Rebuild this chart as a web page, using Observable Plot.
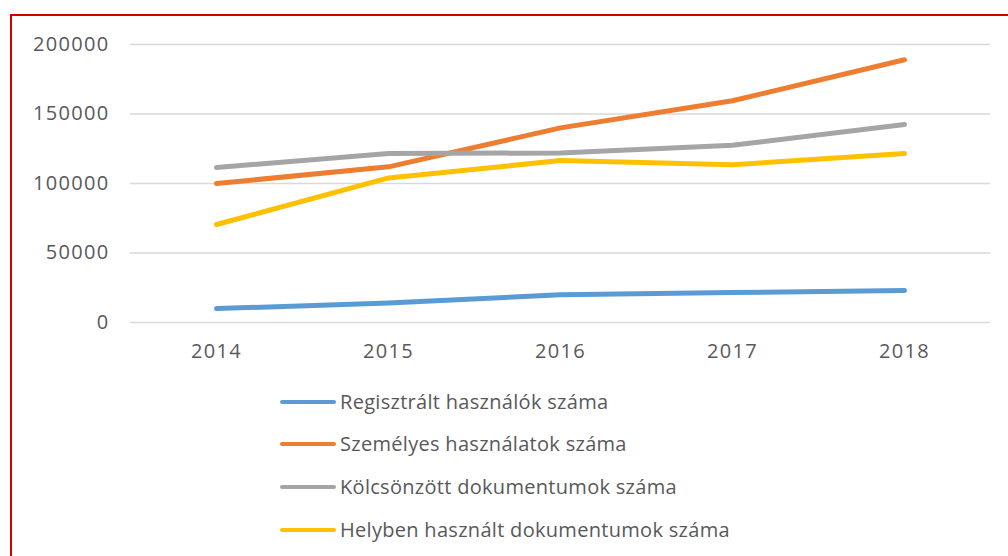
<!DOCTYPE html>
<html>
<head>
<meta charset="utf-8">
<script src="https://cdn.jsdelivr.net/npm/d3@7"></script>
<script src="https://cdn.jsdelivr.net/npm/@observablehq/plot@0.6"></script>
<style>
  html, body { margin: 0; padding: 0; background: #fff; }
  #wrap { position: relative; width: 1008px; height: 556px; overflow: hidden; font-family: "Open Sans", sans-serif; }
  #frame { position: absolute; left: 10px; top: 14px; width: 1010px; height: 560px; border-left: 2px solid #cc0000; border-top: 2px solid #cc0000; box-sizing: border-box; pointer-events: none; }
  #chart { position: absolute; left: 0; top: 0; }
  #chart svg text { letter-spacing: 1.3px; }
  #legend { position: absolute; left: 280px; top: 380px; }
  .item { position: absolute; left: 0; height: 30px; width: 600px; }
  .item .sw { position: absolute; left: 0; top: 13px; width: 56px; height: 4px; border-radius: 2px; }
  .item .lb { position: absolute; left: 60px; top: 0; font-size: 20px; line-height: 30px; color: #595959; letter-spacing: 0.3px; white-space: nowrap; }
</style>
</head>
<body>
<div id="wrap">
  <div id="chart"></div>
  <div id="legend"></div>
  <div id="frame"></div>
</div>
<script>
const years = ["2014", "2015", "2016", "2017", "2018"];
const seriesNames = [
  "Regisztrált használók száma",
  "Személyes használatok száma",
  "Kölcsönzött dokumentumok száma",
  "Helyben használt dokumentumok száma"
];
const colors = ["#5B9BD5", "#ED7D31", "#A5A5A5", "#FFC000"];
const registered = [10000, 14000, 20000, 21500, 23000];
const personal = [100000, 112000, 140000, 159500, 189000];
const borrowed = [111500, 121500, 122000, 127500, 142500];
const onsite = [70500, 104000, 116500, 113500, 121500];
const yTicks = [0, 50000, 100000, 150000, 200000];

const seriesValues = [registered, personal, borrowed, onsite];
const data = seriesValues.flatMap((vals, i) =>
  vals.map((v, j) => ({ year: years[j], value: v, series: seriesNames[i] }))
);

const chart = Plot.plot({
  width: 1008,
  height: 380,
  marginTop: 44,
  marginBottom: 58,
  marginLeft: 130,
  marginRight: 18,
  style: { fontFamily: "Open Sans, sans-serif", fontSize: "20px", color: "#595959", background: "transparent" },
  x: { type: "point", domain: years, padding: 0.5, label: null },
  y: { domain: [0, 200000], label: null },
  color: { domain: seriesNames, range: colors },
  marks: [
    Plot.ruleY(yTicks, { stroke: "#d9d9d9", strokeWidth: 1.5 }),
    Plot.axisY(yTicks, { tickSize: 0, tickPadding: 21, tickFormat: d => String(d), fill: "#595959", label: null }),
    Plot.axisX(years, { tickSize: 0, tickPadding: 21, fill: "#595959", label: null }),
    Plot.line(data, { x: "year", y: "value", stroke: "series", strokeWidth: 5, strokeLinecap: "round", strokeLinejoin: "round" })
  ]
});
document.getElementById("chart").appendChild(chart);

const legend = document.getElementById("legend");
const rowY = [22, 64, 107, 150];
seriesNames.forEach((name, i) => {
  const it = document.createElement("div");
  it.className = "item";
  it.style.top = (rowY[i] - 15) + "px";
  const sw = document.createElement("div");
  sw.className = "sw";
  sw.style.background = colors[i];
  const lb = document.createElement("div");
  lb.className = "lb";
  lb.textContent = name;
  it.appendChild(sw);
  it.appendChild(lb);
  legend.appendChild(it);
});
</script>
</body>
</html>
